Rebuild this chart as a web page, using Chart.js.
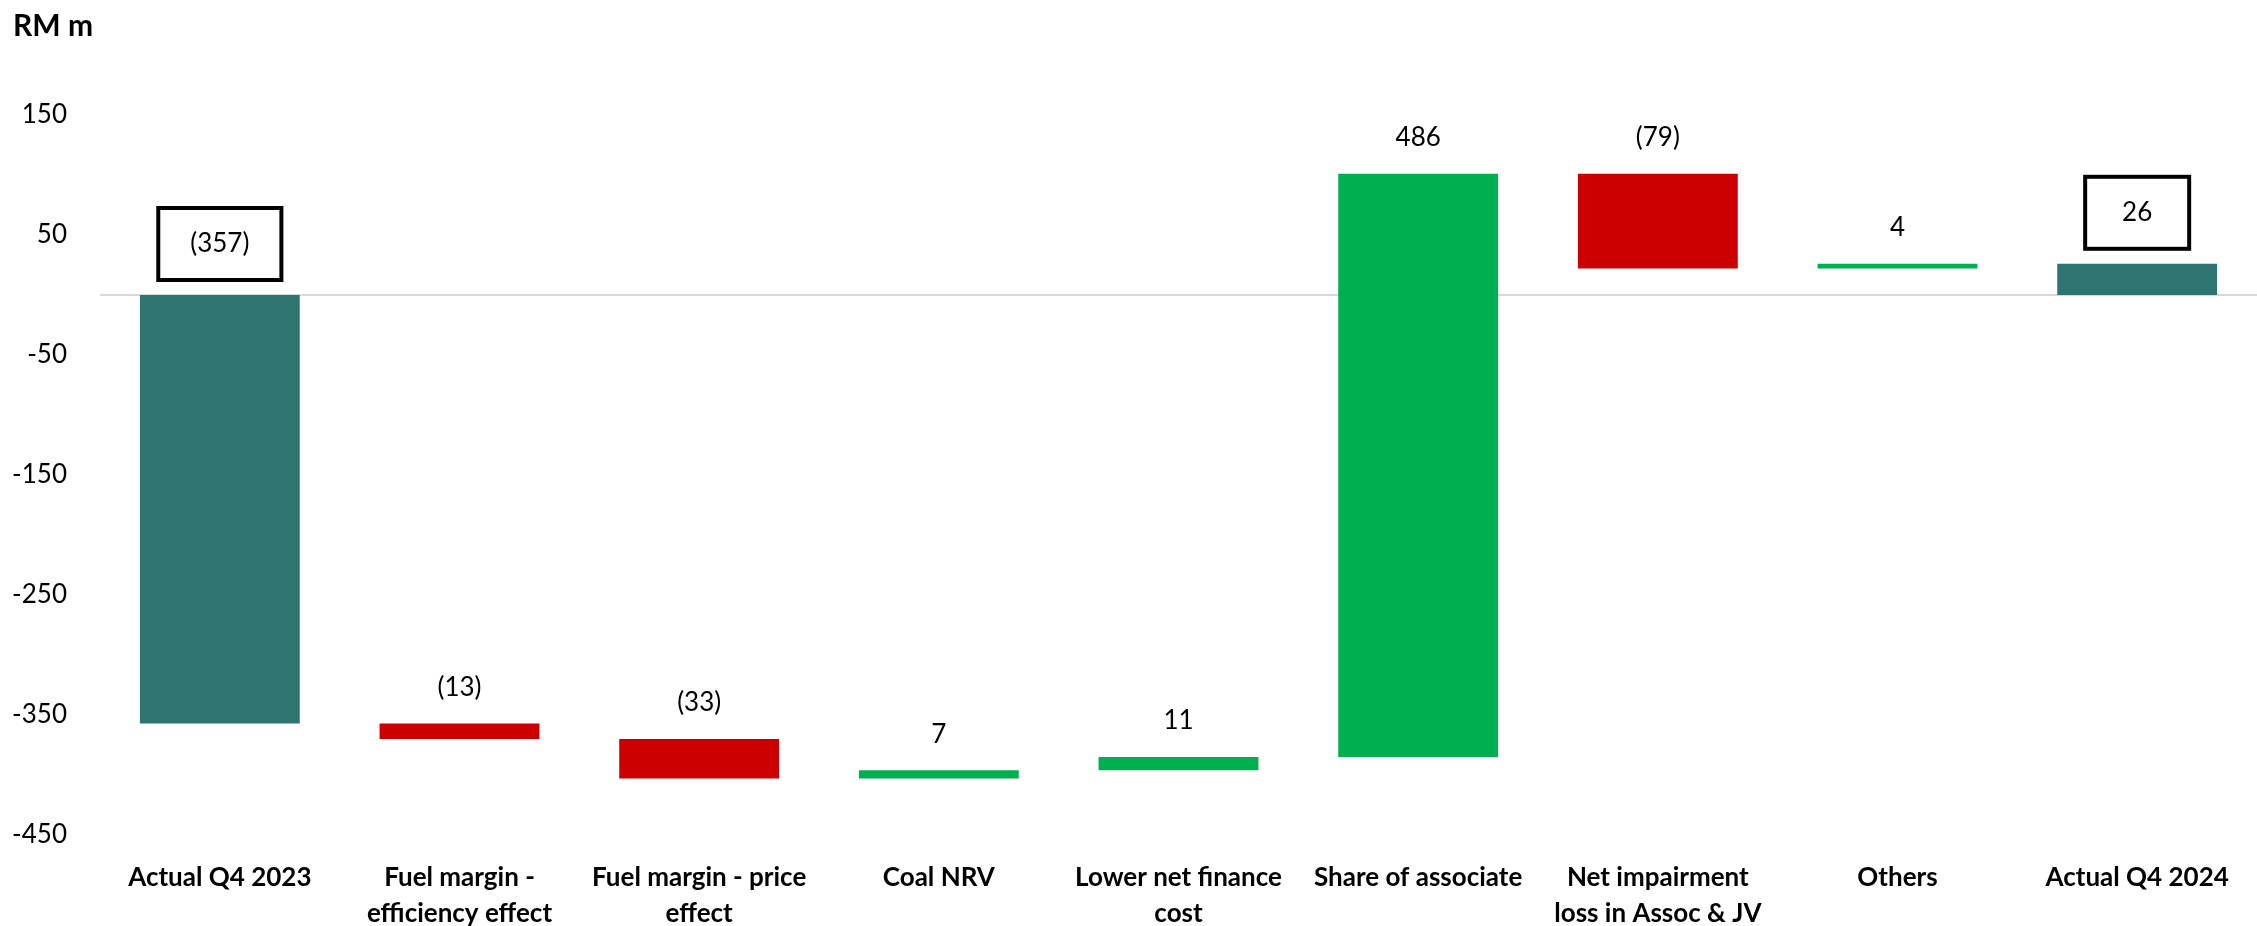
<!DOCTYPE html>
<html>
<head>
<meta charset="utf-8">
<title>RM m bridge</title>
<script src="https://cdn.jsdelivr.net/npm/chart.js@4/dist/chart.umd.min.js"></script>
<style>
  html, body { margin: 0; padding: 0; background: #fff; }
  #wrap { width: 2257px; height: 926px; }
</style>
</head>
<body>
<div id="wrap"><canvas id="chart" width="2257" height="926"></canvas></div>
<script>
const categories = [
  'Actual Q4 2023',
  ['Fuel margin -', 'efficiency effect'],
  ['Fuel margin - price', 'effect'],
  'Coal NRV',
  ['Lower net finance', 'cost'],
  'Share of associate',
  ['Net impairment', 'loss in Assoc & JV'],
  'Others',
  'Actual Q4 2024'
]
const openingTotal = -357
const movements = [-13, -33, 7, 11, 486, -79, 4]
const closingTotal = 26
const yTicks = [-450, -350, -250, -150, -50, 50, 150]

const TEAL = '#2E7572'
const GREEN = '#00B050'
const RED = '#CC0000'
const FONT = 'Lato, "Liberation Sans", sans-serif'

// floating bars: each movement starts where the previous one ended
const ranges = [[0, openingTotal]]
const labels = [openingTotal]
const colors = [TEAL]
let running = openingTotal
movements.forEach(m => {
  ranges.push([running, running + m])
  labels.push(m)
  colors.push(m < 0 ? RED : GREEN)
  running += m
})
ranges.push([0, closingTotal])
labels.push(closingTotal)
colors.push(TEAL)
const totals = [0, ranges.length - 1]

const fmt = v => v < 0 ? '(' + Math.abs(v) + ')' : String(v)

const zeroLine = {
  id: 'zeroLine',
  beforeDatasetsDraw(chart) {
    const { ctx, chartArea, scales } = chart
    const y = Math.round(scales.y.getPixelForValue(0))
    ctx.save()
    ctx.strokeStyle = '#D9D9D9'
    ctx.lineWidth = 2
    ctx.beginPath()
    ctx.moveTo(chartArea.left, y)
    ctx.lineTo(chartArea.right, y)
    ctx.stroke()
    ctx.restore()
  }
}

const valueLabels = {
  id: 'valueLabels',
  afterDatasetsDraw(chart) {
    const { ctx, scales } = chart
    const meta = chart.getDatasetMeta(0)
    ctx.save()
    ctx.font = '26px ' + FONT
    ctx.fillStyle = '#000'
    ctx.textAlign = 'center'
    ctx.textBaseline = 'middle'
    meta.data.forEach((bar, i) => {
      const [a, b] = ranges[i]
      const top = scales.y.getPixelForValue(Math.max(a, b))
      const text = fmt(labels[i])
      if (totals.includes(i)) {
        // totals get a boxed label
        const cy = top - 51
        const w = Math.max(ctx.measureText(text).width + 64, 104)
        const h = 72
        ctx.lineWidth = 4
        ctx.strokeStyle = '#000'
        ctx.strokeRect(bar.x - w / 2, cy - h / 2, w, h)
        ctx.fillText(text, bar.x, cy)
      } else {
        ctx.fillText(text, bar.x, top - 36)
      }
    })
    ctx.textAlign = 'left'
    ctx.font = 'bold 30px ' + FONT
    ctx.fillText('RM m', 13, 26)
    ctx.restore()
  }
}

new Chart(document.getElementById('chart'), {
  type: 'bar',
  data: {
    labels: categories,
    datasets: [{
      data: ranges,
      backgroundColor: colors,
      borderWidth: 0,
      categoryPercentage: 1,
      barPercentage: 0.667
    }]
  },
  options: {
    responsive: false,
    animation: false,
    layout: { padding: { top: 115, right: 0, left: 0, bottom: 0 } },
    plugins: { legend: { display: false }, tooltip: { enabled: false } },
    scales: {
      x: {
        grid: { display: false },
        border: { display: false },
        ticks: {
          color: '#000',
          font: { family: FONT, size: 26, weight: 'bold', lineHeight: '36px' },
          padding: 17,
          maxRotation: 0,
          autoSkip: false
        },
        afterFit: s => { s.height = 91 }
      },
      y: {
        min: -450,
        max: 150,
        grid: { display: false },
        border: { display: false },
        afterBuildTicks: s => { s.ticks = yTicks.map(v => ({ value: v })) },
        ticks: {
          color: '#000',
          font: { family: FONT, size: 26 },
          padding: 25
        },
        afterFit: s => { s.width = 100 }
      }
    }
  },
  plugins: [zeroLine, valueLabels]
})
</script>
</body>
</html>
